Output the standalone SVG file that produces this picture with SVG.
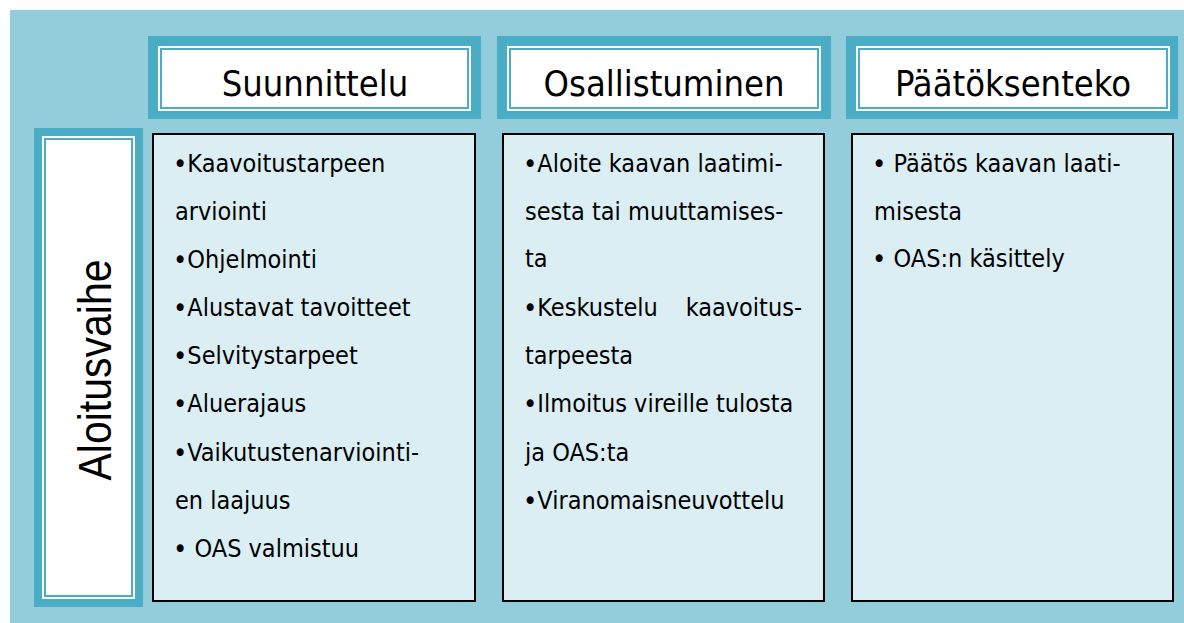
<svg xmlns="http://www.w3.org/2000/svg" width="1184" height="623" viewBox="0 0 1184 623">
<style>
.band{fill:#4BACC6}
.inner{fill:#FFFFFF}
.line{fill:none;stroke:#4BACC6;stroke-width:2}
.content{fill:#DAEEF3;stroke:#000000;stroke-width:2}
.head{font-family:"DejaVu Sans Condensed","DejaVu Sans",sans-serif;font-stretch:condensed;font-size:36px;fill:#000;text-anchor:middle}
.body{font-family:"DejaVu Sans Condensed","DejaVu Sans",sans-serif;font-stretch:condensed;font-size:25px;fill:#000}
.b{font-size:27px;baseline-shift:-1px}
.side{font-family:"Liberation Sans",Arial,sans-serif;font-size:41px;fill:#000;text-anchor:middle}
</style>
<rect x="10" y="10" width="1174" height="613" fill="#93CDDC"/>
<g id="header-suunnittelu">
<rect class="band" x="148" y="36" width="333" height="83"/>
<rect class="inner" x="158" y="46" width="313" height="65"/>
<rect class="line" x="161" y="49" width="307" height="59"/>
<text class="head" x="315" y="96">Suunnittelu</text>
</g>
<g id="header-osallistuminen">
<rect class="band" x="497" y="36" width="334" height="83"/>
<rect class="inner" x="507" y="46" width="314" height="65"/>
<rect class="line" x="510" y="49" width="308" height="59"/>
<text class="head" x="664" y="96">Osallistuminen</text>
</g>
<g id="header-paatoksenteko">
<rect class="band" x="846" y="36" width="332" height="83"/>
<rect class="inner" x="856" y="46" width="314" height="65"/>
<rect class="line" x="859" y="49" width="308" height="59"/>
<text class="head" x="1013" y="96">Päätöksenteko</text>
</g>
<g id="side-aloitusvaihe">
<rect class="band" x="34" y="128" width="109" height="479"/>
<rect class="inner" x="42" y="136" width="93" height="463"/>
<rect class="line" x="45" y="139" width="87" height="457"/>
<text class="side" transform="translate(111,370) rotate(-90) scale(1,1.12)" x="0" y="0">Aloitusvaihe</text>
</g>
<g id="content-suunnittelu">
<rect class="content" x="153" y="134" width="322" height="467"/>
<text class="body" x="173" y="172"><tspan class="b">•</tspan>Kaavoitustarpeen</text>
<text class="body" x="175" y="220">arviointi</text>
<text class="body" x="173" y="268"><tspan class="b">•</tspan>Ohjelmointi</text>
<text class="body" x="173" y="316"><tspan class="b">•</tspan>Alustavat tavoitteet</text>
<text class="body" x="173" y="364"><tspan class="b">•</tspan>Selvitystarpeet</text>
<text class="body" x="173" y="412"><tspan class="b">•</tspan>Aluerajaus</text>
<text class="body" x="173" y="461"><tspan class="b">•</tspan>Vaikutustenarviointi-</text>
<text class="body" x="175" y="509">en laajuus</text>
<text class="body" x="173" y="557"><tspan class="b">•</tspan> OAS valmistuu</text>
</g>
<g id="content-osallistuminen">
<rect class="content" x="503" y="134" width="321" height="467"/>
<text class="body" x="523" y="172"><tspan class="b">•</tspan>Aloite kaavan laatimi-</text>
<text class="body" x="525" y="220">sesta tai muuttamises-</text>
<text class="body" x="525" y="267">ta</text>
<text class="body" x="523" y="316"><tspan class="b">•</tspan>Keskustelu</text>
<text class="body" x="802" y="316" text-anchor="end">kaavoitus-</text>
<text class="body" x="525" y="364">tarpeesta</text>
<text class="body" x="523" y="412"><tspan class="b">•</tspan>Ilmoitus vireille tulosta</text>
<text class="body" x="525" y="461">ja OAS:ta</text>
<text class="body" x="523" y="509"><tspan class="b">•</tspan>Viranomaisneuvottelu</text>
</g>
<g id="content-paatoksenteko">
<rect class="content" x="852" y="134" width="321" height="467"/>
<text class="body" x="872" y="172"><tspan class="b">•</tspan> Päätös kaavan laati-</text>
<text class="body" x="874" y="220">misesta</text>
<text class="body" x="872" y="267"><tspan class="b">•</tspan> OAS:n käsittely</text>
</g>
<g id="connectors"/>
</svg>
